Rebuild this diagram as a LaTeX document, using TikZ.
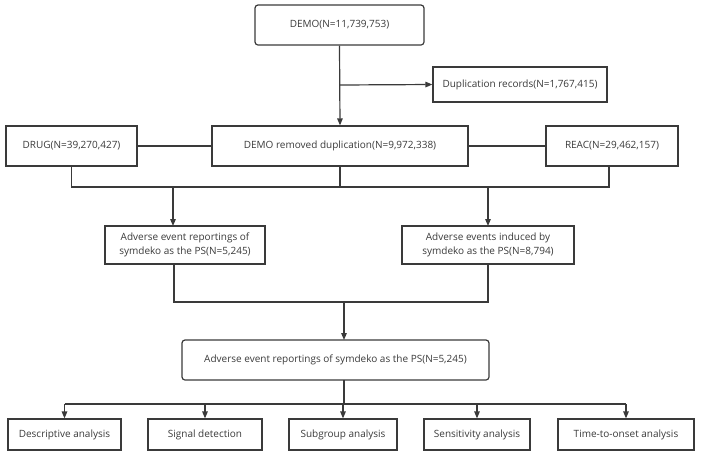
\documentclass[tikz,border=0pt]{standalone}
\usepackage{fontspec}
\setmainfont{Open Sans}
\usetikzlibrary{arrows.meta}
\definecolor{ln}{HTML}{3A3A3A}
\begin{document}
\begin{tikzpicture}[x=1pt,y=-1pt,
  box/.style={draw=ln,line width=1.2pt,rectangle,inner sep=0pt,align=center,font=\fontsize{10}{13.5}\selectfont,text=ln},
  rbox/.style={box,rounded corners=3pt},
  conn/.style={draw=ln,line width=1.2pt},
  arr/.style={conn,-{Triangle[length=7pt,width=5.5pt]}}]
\useasboundingbox (0,0) rectangle (702,456);
\node[rbox,minimum width=169pt,minimum height=40pt] (demo) at (339.5,25) {DEMO(N=11,739,753)};
\node[box,minimum width=174pt,minimum height=35pt] (dup) at (520,84.5) {Duplication records(N=1,767,415)};
\node[box,minimum width=131pt,minimum height=40pt] (drug) at (71.5,146) {DRUG(N=39,270,427)};
\node[box,minimum width=256pt,minimum height=40pt] (demor) at (340,146) {DEMO removed duplication(N=9,972,338)};
\node[box,minimum width=132pt,minimum height=40pt] (reac) at (612,146) {REAC(N=29,462,157)};
\node[box,minimum width=160pt,minimum height=38pt] (a1) at (185,245) {Adverse event reportings of\\symdeko as the PS(N=5,245)};
\node[box,minimum width=172pt,minimum height=38pt] (a2) at (488,245) {Adverse events induced by\\symdeko as the PS(N=8,794)};
\node[rbox,minimum width=307pt,minimum height=40pt] (fin) at (335.5,360) {Adverse event reportings of symdeko as the PS(N=5,245)};
\node[box,minimum width=113pt,minimum height=31pt] (b1) at (64.5,434.5) {Descriptive analysis};
\node[box,minimum width=114pt,minimum height=31pt] (b2) at (205,434.5) {Signal detection};
\node[box,minimum width=108pt,minimum height=31pt] (b3) at (343,434.5) {Subgroup analysis};
\node[box,minimum width=106pt,minimum height=31pt] (b4) at (477,434.5) {Sensitivity analysis};
\node[box,minimum width=136pt,minimum height=31pt] (b5) at (626,434.5) {Time-to-onset analysis};
% coordinates
\coordinate (dsplit) at (340,85);
\coordinate (jl) at (71.5,187);
\coordinate (jm) at (340,187);
\coordinate (jr) at (609,187);
\coordinate (ja1) at (173,187);
\coordinate (ja2) at (488,187);
\coordinate (ka1) at (173,226);
\coordinate (ka2) at (488,226);
\coordinate (l1) at (174,264);
\coordinate (l1b) at (174,302);
\coordinate (l2b) at (488,302);
\coordinate (lm) at (344,302);
\coordinate (kf) at (344,340);
\coordinate (ft) at (344,380);
\coordinate (fm) at (344,404);
\coordinate (fl) at (64.5,404);
\coordinate (fr) at (626,404);
% connectors
\draw[arr] (demo.south) -- (demor.north);
\draw[arr] (dsplit) -- (dup.west);
\draw[conn] (drug.east) -- (demor.west);
\draw[conn] (demor.east) -- (reac.west);
\draw[conn] (drug.south) -- (jl) -- (jr) -- (jr |- reac.south);
\draw[conn] (demor.south) -- (jm);
\draw[arr] (ja1) -- (ka1);
\draw[arr] (ja2) -- (ka2);
\draw[conn] (l1) -- (l1b) -- (l2b) -- (a2.south);
\draw[arr] (lm) -- (kf);
\draw[conn] (ft) -- (fm);
\draw[conn] (fl) -- (fr);
\draw[arr] (fl) -- (b1.north);
\draw[arr] (b2.north |- fm) -- (b2.north);
\draw[arr] (b3.north |- fm) -- (b3.north);
\draw[arr] (b4.north |- fm) -- (b4.north);
\draw[arr] (fr) -- (b5.north);
\end{tikzpicture}
\end{document}
